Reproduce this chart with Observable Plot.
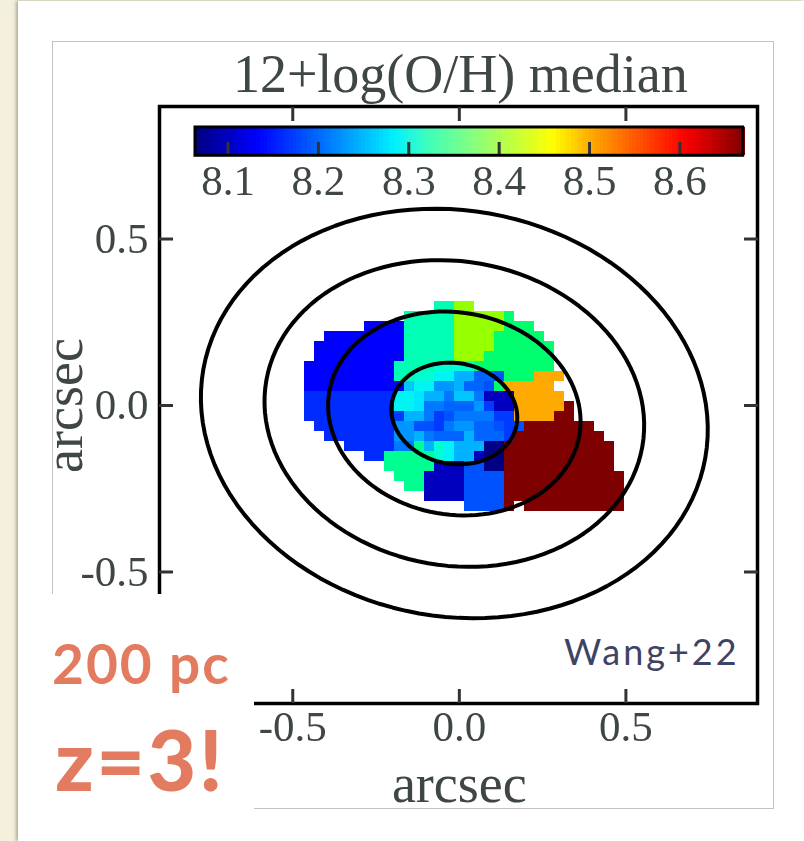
<!DOCTYPE html>
<html>
<head>
<meta charset="utf-8">
<script src="https://cdn.jsdelivr.net/npm/d3@7"></script>
<script src="https://cdn.jsdelivr.net/npm/@observablehq/plot@0.6"></script>
<style>
  html, body { margin: 0; padding: 0; background: #f3f0dd; }
  #page { position: relative; width: 804px; height: 841px; overflow: hidden; }
  #sheet { position: absolute; left: 18px; top: 1px; width: 786px; height: 840px; background: #fff; box-shadow: -2px 0 3px rgba(120,115,85,.55); }
  #frame { position: absolute; left: 52px; top: 41px; width: 720px; height: 766px; border: 1px solid #c2c2c2; }
  #chart { position: absolute; left: 0; top: 0; }
  #chart svg { display: block; background: transparent; filter: blur(0.35px); }
  #patch { position: absolute; left: 51px; top: 594px; width: 203px; height: 216px; background: #fff; }
  .note { position: absolute; white-space: nowrap; line-height: 1; font-family: Lato, sans-serif; }
  #pc { left: 52px; top: 636px; font-size: 55px; font-weight: 700; color: #e27b5f; letter-spacing: 2px; }
  #z { left: 55px; top: 717px; font-size: 84px; font-weight: 900; color: #e27b5f; letter-spacing: 2.5px; }
  #cite { left: 564px; top: 633px; font-size: 36px; font-weight: 400; color: #3e4366; letter-spacing: 3px; }
</style>
</head>
<body>
<div id="page">
  <div id="sheet"></div>
  <div id="frame"></div>
  <div id="chart"></div>
  <div id="patch"></div>
  <div class="note" id="pc">200 pc</div>
  <div class="note" id="z">z=3!</div>
  <div class="note" id="cite">Wang+22</div>
</div>
<script>
// ---- data ----
const titleText = "12+log(O/H) median";
const axisLabel = "arcsec";
const axisTicks = [-0.5, 0, 0.5];
const barTicks = [8.1, 8.2, 8.3, 8.4, 8.5, 8.6];

// metallicity levels found in the map
const levelKeys = "ndDBefghijklcmMSGYOR".split("");
const levelValues = [8.065, 8.094, 8.131, 8.164, 8.173, 8.188, 8.199, 8.211, 8.229, 8.246,
                     8.259, 8.276, 8.288, 8.306, 8.319, 8.334, 8.349, 8.397, 8.50, 8.67];

// one string per spaxel row, top to bottom; "." = no data
const mapRows = [
  ".............MMYY",
  "..........MMMMMYYYYYG",
  "......DDDDMMMMMYYYYYGGG",
  "..DDDDDDDDMMMMMYYYYGGGGG",
  ".DDDDDDDDDMMMMMYYYYGGGGGG",
  ".DDDDDDDDDMMMMMYYYGGGGGGG",
  "DDDDDDDDDMMMMmmmmGGGGGGGG",
  "DDDDDDDDDMMmmccjjggfGGGOOO",
  "DDDDDDDDDDkcciijggfGOOOOO",
  "BBBBBBBBBccljjhkkhdddOOOOO",
  "BBBBBBBBBcclhhgggieddOOOOOR",
  "BBBBBBBBBejjhefhhhheeOOOORR",
  ".BBBBBBBBiiffehiiggfefRRRRRRR",
  "..BBBBBBBiijhgggjgggeRRRRRRRRR",
  "....BBBBBhhSjmcjjjnnRRRRRRRRRRR",
  "......BBSSSSSmcjjdnnRRRRRRRRRRR",
  "........SSSSSdddffnnRRRRRRRRRRR",
  ".........SSSddddffffRRRRRRRRRRRR",
  "..........SSddddffffRRRRRRRRRRRR",
  "............ddddffffRRRRRRRRRRRR",
  "................ffffR.RRRRRRRRRR"
];
const cellX0 = -0.465, cellY0 = 0.313, cellSize = 0.03;

// apertures: semi-major axes in arcsec
const apertureA = [0.19, 0.381, 0.573, 0.765];
const apertureRatio = 0.797;
const apertureTilt = -10;
const apertureCenter = [-0.015, -0.024];

// colour stops of the map
const mapStops = [8.064, 8.094, 8.131, 8.169, 8.199, 8.229, 8.259, 8.282, 8.306, 8.319, 8.349, 8.397, 8.458, 8.50, 8.603, 8.67];
const mapColors = ["#000082","#0000be","#0000ff","#0032ff","#0064ff","#0096ff","#00c8ff","#00f0ff",
                   "#00ffd2","#00ffb4","#00ff6e","#96ff00","#ffff00","#ffaa00","#ff0000","#7f0000"];
// colour stops of the colour bar
const barStops = [8.064, 8.131, 8.215, 8.282, 8.318, 8.367, 8.458, 8.50, 8.603, 8.67];
const barColors = ["#000082","#0000ff","#0082ff","#00f0ff","#3cffbe","#82ff82","#ffff00","#ffaa00","#ff0000","#7f0000"];

// ---- derived ----
const cells = mapRows.flatMap((row, r) => row.split("").flatMap((k, c) => k === "." ? [] : [{
  x1: cellX0 + c * cellSize, x2: cellX0 + (c + 1) * cellSize,
  y1: cellY0 - r * cellSize, y2: cellY0 - (r + 1) * cellSize,
  v: levelValues[levelKeys.indexOf(k)]
}]));

const angles = d3.range(0, 361, 3).map(d => d * Math.PI / 180);
const tilt = apertureTilt * Math.PI / 180;
const ellipses = apertureA.flatMap((a, i) => angles.map(t => {
  const u = a * Math.cos(t), v = a * apertureRatio * Math.sin(t);
  return {
    id: i,
    x: apertureCenter[0] + u * Math.cos(tilt) - v * Math.sin(tilt),
    y: apertureCenter[1] + u * Math.sin(tilt) + v * Math.cos(tilt)
  };
}));

// colour bar placed inside the axes
const barX = d3.scaleLinear([8.064, 8.67], [-0.792, 0.852]);
const barTop = 0.835, barBottom = 0.75, barTickTop = 0.79, barLabelY = 0.674;
const barColor = d3.scaleLinear(barStops, barColors);
const barSteps = d3.range(8.064, 8.67, 0.004).map(v => ({v}));

const textGray = "#3f4646", tickGray = "#333";
const serif = "'Liberation Serif', serif";
const fmt = d => d.toFixed(1);

const plot = Plot.plot({
  width: 804, height: 841,
  marginLeft: 159, marginRight: 47, marginTop: 106, marginBottom: 138,
  style: {background: "transparent"},
  x: {domain: [-0.9, 0.895]},
  y: {domain: [-0.895, 0.898]},
  color: {type: "linear", domain: mapStops, range: mapColors, interpolate: "rgb"},
  marks: [
    Plot.rect(cells, {x1: "x1", x2: "x2", y1: "y1", y2: "y2", fill: "v", shapeRendering: "crispEdges"}),
    Plot.line(ellipses, {x: "x", y: "y", z: "id", stroke: "#000", strokeWidth: 4, curve: "linear"}),

    // colour bar
    Plot.rect(barSteps, {
      x1: d => barX(d.v), x2: d => barX(d.v + 0.0045), y1: barBottom, y2: barTop,
      fill: {value: d => barColor(d.v), scale: null}, shapeRendering: "crispEdges"
    }),
    Plot.ruleX(barTicks, {x: d => barX(d), y1: barBottom, y2: barTickTop, stroke: tickGray, strokeWidth: 3}),
    Plot.rect([0], {x1: barX(8.064), x2: barX(8.67), y1: barBottom, y2: barTop, fill: "none", stroke: "#000", strokeWidth: 3}),
    Plot.text(barTicks, {x: d => barX(d), y: barLabelY, text: fmt, fontFamily: serif, fontSize: 43, fill: textGray}),

    // axes frame
    Plot.frame({stroke: "#000", strokeWidth: 3.5}),
    Plot.axisX(axisTicks, {anchor: "bottom", tickSize: -14, text: null, stroke: tickGray, strokeWidth: 3, label: null}),
    Plot.axisX(axisTicks, {anchor: "top", tickSize: -14, text: null, stroke: tickGray, strokeWidth: 3, label: null}),
    Plot.axisY(axisTicks, {anchor: "left", tickSize: -14, text: null, stroke: tickGray, strokeWidth: 3, label: null}),
    Plot.axisY(axisTicks, {anchor: "right", tickSize: -14, text: null, stroke: tickGray, strokeWidth: 3, label: null}),
    Plot.axisX(axisTicks, {anchor: "bottom", tickSize: 0, tickPadding: 7, tickFormat: fmt, fontFamily: serif, fontSize: 43, fill: textGray, label: null}),
    Plot.axisY(axisTicks, {anchor: "left", tickSize: 0, tickPadding: 11, tickFormat: fmt, fontFamily: serif, fontSize: 43, fill: textGray, label: null}),

    // title and axis labels
    Plot.text([titleText], {x: 0, y: 1.0, text: d => d, dx: 1, dy: 2, fontFamily: serif, fontSize: 54, fill: textGray}),
    Plot.text([axisLabel], {x: 0, y: -1.14, text: d => d, fontFamily: serif, fontSize: 54, fill: textGray}),
    Plot.text([axisLabel], {x: -1.185, y: 0, text: d => d, rotate: -90, fontFamily: serif, fontSize: 54, fill: textGray})
  ]
});
document.getElementById("chart").appendChild(plot);
</script>
</body>
</html>
